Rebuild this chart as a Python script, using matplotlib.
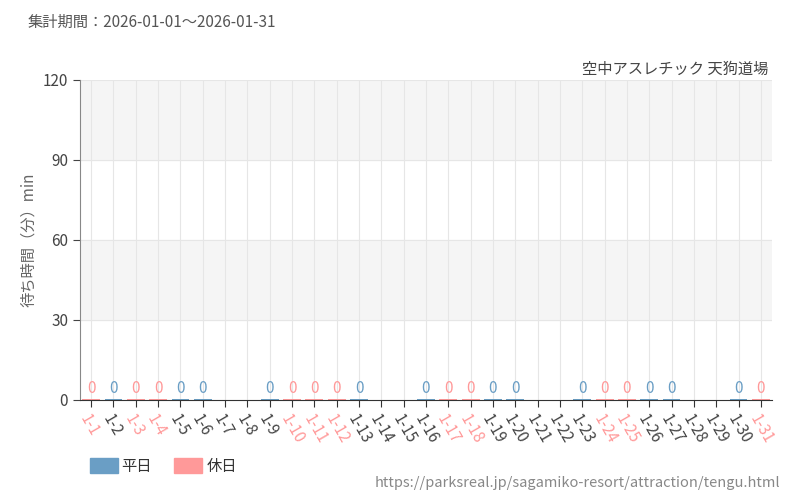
import matplotlib
matplotlib.use("Agg")
import matplotlib.pyplot as plt
plt.rcParams['font.family'] = ['Noto Sans CJK JP', 'DejaVu Sans']

days = [f"1-{d}" for d in range(1, 32)]
holidays = [1,3,4,10,11,12,17,18,24,25,31]
missing = [7,8,14,15,21,22,28,29]
values = [None if d in missing else 0 for d in range(1, 32)]
blue = '#6a9ec5'
pink = '#ff9999'

fig = plt.figure(figsize=(8, 5), dpi=100)
ax = fig.add_axes([0.1, 0.2, 0.865, 0.64])
ax.set_xlim(-0.5, 30.5)
ax.set_ylim(0, 120)
ax.axhspan(30, 60, color='#f5f5f5', zorder=0)
ax.axhspan(90, 120, color='#f5f5f5', zorder=0)
for i in range(31):
    ax.axvline(i, color='#e6e6e6', lw=0.8, zorder=1)
for y in [30, 60, 90, 120]:
    ax.axhline(y, color='#e6e6e6', lw=0.8, zorder=1)
for i, v in enumerate(values):
    if v is None:
        continue
    c = pink if (i + 1) in holidays else blue
    ax.bar(i, 0.5, width=0.8, color=c, zorder=2)
    ax.text(i, v + 1, str(v), color=c, ha='center', va='bottom', fontsize=11, zorder=3)
ax.set_xticks(range(31))
ax.set_xticklabels(days, rotation=-60, ha='left', rotation_mode='anchor', fontsize=11)
for i, t in enumerate(ax.get_xticklabels()):
    t.set_color(pink if (i + 1) in holidays else '#444444')
ax.set_yticks([0, 30, 60, 90, 120])
ax.tick_params(axis='y', length=5, labelsize=11, colors='#444444')
ax.tick_params(axis='x', length=5, color='#333333')
for s in ['top', 'right']:
    ax.spines[s].set_visible(False)
ax.spines['left'].set_color('#888888')
ax.spines['bottom'].set_color('#333333')
ax.set_ylabel('待ち時間（分）min', color='#666666', fontsize=11)
fig.text(0.035, 0.955, '集計期間：2026-01-01～2026-01-31', fontsize=11, color='#555555', va='center')
fig.text(0.96, 0.862, '空中アスレチック 天狗道場', fontsize=11, color='#444444', ha='right', va='center')
fig.text(0.975, 0.035, 'https://parksreal.jp/sagamiko-resort/attraction/tengu.html', fontsize=10.5, color='#888888', ha='right', va='center')
fig.patches.append(plt.Rectangle((0.112, 0.055), 0.035, 0.03, color=blue, transform=fig.transFigure))
fig.text(0.152, 0.068, '平日', fontsize=11, color='#333333', va='center')
fig.patches.append(plt.Rectangle((0.218, 0.055), 0.035, 0.03, color=pink, transform=fig.transFigure))
fig.text(0.258, 0.068, '休日', fontsize=11, color='#333333', va='center')
fig.savefig('out.png')
